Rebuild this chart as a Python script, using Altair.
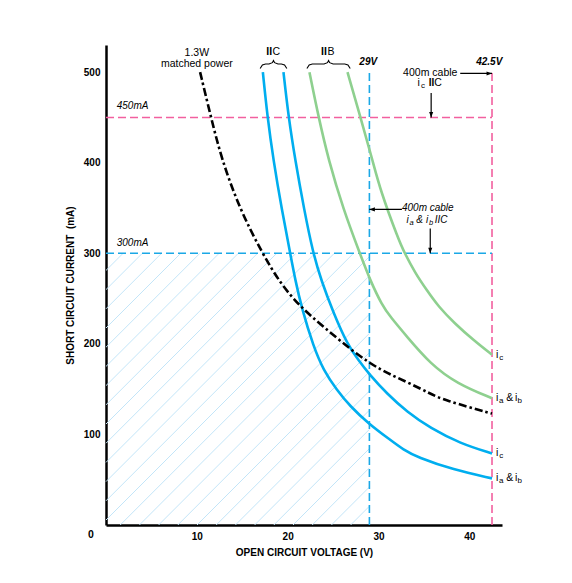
import altair as alt
import pandas as pd
import numpy as np

# ---------------- data ----------------
x_ticks = [0, 10, 20, 30, 40]
y_ticks = [0, 100, 200, 300, 400, 500]

# IIC, ia & ib (blue, left)
iic_ab_v = [17.27, 17.77, 18.43, 19.36, 20.28, 20.85, 21.56, 22.84, 23.94, 25.42, 26.89, 28.9, 31.29, 32.76, 34.24, 38.24, 42.5]
iic_ab_i = [500, 451, 403, 348, 300, 270, 239, 197, 171, 149, 131, 112, 94, 83, 75, 61, 51.5]
# IIC, ic (blue, right)
iic_c_v = [19.54, 20.09, 20.83, 21.82, 22.78, 23.7, 25.05, 26.6, 27.80, 29.01, 30.93, 33.13, 35.70, 39.0, 42.5]
iic_c_i = [500, 451, 403, 348, 301, 270, 234, 199, 182, 166, 145, 125, 107, 90, 79]
# IIB, ia & ib (green, left)
iib_ab_v = [22.40, 23.39, 24.50, 26.15, 27.91, 29.09, 30.38, 31.29, 33.13, 35.7, 38.64, 42.5]
iib_ab_i = [500, 451, 403, 348, 301, 270, 243, 230, 208, 178, 156, 140]
# IIB, ic (green, right)
iib_c_v = [26.59, 27.99, 29.34, 30.19, 32.21, 32.84, 34.05, 35.34, 36.62, 38.35, 40.47, 42.5]
iib_c_i = [500, 451, 403, 370, 315, 301, 278, 259, 241, 223, 204, 188]
# 1.3W matched power (black dash-dot)
pw_v = [10.36, 11.54, 12.75, 14.77, 17.16, 19.17, 21.38, 23.94, 27.25, 30.19, 33.13, 35.7, 37.17, 42.5]
pw_i = [500, 451, 403, 348, 301, 267, 241, 219, 191, 171, 158, 145, 138, 123]

# limits
v_limit_ab = 29.0     # 29V
v_limit_c = 42.5      # 42.5V
i_limit_ab = 300      # 300mA
i_limit_c = 450       # 450mA
limit_top = 502

# group braces (V range)
brace_iic = [16.97, 19.91]
brace_iib = [22.12, 26.89]

# ---------------- layout ----------------
W, H = 396, 480
XMAX, YMAX = 43.6, 530
SANS = "Liberation Sans, Arial, Helvetica, sans-serif"
BLUE = "#00aeef"
GREEN = "#8ed08f"
PINK = "#f2609f"
DBLUE = "#1ba8e6"
HATCH = "#c3e5f8"

xs = alt.Scale(domain=[0, XMAX], nice=False, zero=False)
ys = alt.Scale(domain=[0, YMAX], nice=False, zero=False)
common_axis = dict(ticks=False, grid=False, domainColor="black", domainWidth=2.5,
                   labelFont=SANS, labelFontSize=10, labelFontWeight="bold", labelColor="black",
                   titleFont=SANS, titleFontSize=10, titleFontWeight="bold", titleColor="black",
                   labelExpr="datum.value == 0 ? '' : datum.label")
xaxis = alt.Axis(values=x_ticks, labelPadding=6, titlePadding=6, **common_axis)
yaxis = alt.Axis(values=y_ticks, labelPadding=6, titlePadding=8, **common_axis)
X = alt.X("V:Q", scale=xs, axis=xaxis, title="OPEN CIRCUIT VOLTAGE (V)")
Y = alt.Y("I:Q", scale=ys, axis=yaxis, title="SHORT CIRCUIT CURRENT \u00a0(mA)")

layers = []

# ---------------- hatch (decoration of the 29V / 300mA region) ----------------
sx, sy = W / XMAX, H / YMAX
Xm, Ym = v_limit_ab * sx, i_limit_ab * sy
step, c0 = 19.2, 5.0
rows = []
for k in range(-40, 40):
    c = c0 + step * k
    if c <= -Xm or c >= Ym:
        continue
    x1 = max(0.0, -c)
    x2 = min(Xm, Ym - c)
    if x2 <= x1:
        continue
    rows.append({"V": x1 / sx, "I": (x1 + c) / sy, "V2": x2 / sx, "I2": (x2 + c) / sy})
hatch = pd.DataFrame(rows)
layers.append(alt.Chart(hatch).mark_rule(color=HATCH, strokeWidth=1).encode(
    x=X, y=Y, x2=alt.X2("V2:Q"), y2=alt.Y2("I2:Q")))

# ---------------- dashed limit lines ----------------
def seg(df, color):
    return alt.Chart(pd.DataFrame(df)).mark_rule(color=color, strokeWidth=1.6, strokeDash=[8, 4]).encode(
        x=X, y=Y, x2=alt.X2("V2:Q"), y2=alt.Y2("I2:Q"))

layers.append(seg({"V": [0, v_limit_c], "I": [i_limit_c, 0], "V2": [v_limit_c, v_limit_c], "I2": [i_limit_c, limit_top]}, PINK))
layers.append(seg({"V": [0, v_limit_ab], "I": [i_limit_ab, 0], "V2": [v_limit_c, v_limit_ab], "I2": [i_limit_ab, limit_top]}, DBLUE))

# ---------------- curves ----------------
def curve(v, i, color, dash=None, width=2.6):
    kw = dict(color=color, strokeWidth=width, interpolate="basis")
    if dash:
        kw["strokeDash"] = dash
    return alt.Chart(pd.DataFrame({"V": v, "I": i})).mark_line(**kw).encode(x=X, y=Y, order="V:Q")

layers.append(curve(iib_ab_v, iib_ab_i, GREEN))
layers.append(curve(iib_c_v, iib_c_i, GREEN))
layers.append(curve(iic_ab_v, iic_ab_i, BLUE))
layers.append(curve(iic_c_v, iic_c_i, BLUE))
layers.append(curve(pw_v, pw_i, "black", dash=[8, 3, 2.5, 3], width=2.6))

# ---------------- braces ----------------
def brace(lo, hi):
    m = (lo + hi) / 2
    v = [lo, lo + 0.25, lo + 0.6, m - 0.5, m - 0.12, m, m + 0.12, m + 0.5, hi - 0.6, hi - 0.25, hi]
    i = [504, 508, 509, 509, 510.5, 513, 510.5, 509, 509, 508, 504]
    return alt.Chart(pd.DataFrame({"V": v, "I": i, "o": range(len(v))})).mark_line(
        color="black", strokeWidth=1.1, interpolate="linear").encode(x=X, y=Y, order="o:Q")

layers.append(brace(*brace_iic))
layers.append(brace(*brace_iib))

# ---------------- arrows ----------------
def arrow(v1, i1, v2, i2, shape):
    shaft = alt.Chart(pd.DataFrame({"V": [v1], "I": [i1], "V2": [v2], "I2": [i2]})).mark_rule(
        color="black", strokeWidth=1.2).encode(x=X, y=Y, x2=alt.X2("V2:Q"), y2=alt.Y2("I2:Q"))
    head = alt.Chart(pd.DataFrame({"V": [v2], "I": [i2]})).mark_point(
        shape=shape, filled=True, color="black", opacity=1, size=30, strokeWidth=0).encode(x=X, y=Y)
    return [shaft, head]

RIGHT = "M0,0L-2,-0.75L-2,0.75Z"
LEFT = "M0,0L2,-0.75L2,0.75Z"
DOWN = "M0,0L-0.75,-2L0.75,-2Z"
layers += arrow(39.0, 498.6, v_limit_c, 498.6, RIGHT)
layers += arrow(35.8, 477, 35.8, i_limit_c, DOWN)
layers += arrow(32.58, 348.5, v_limit_ab, 348.5, LEFT)
layers += arrow(35.7, 327.5, 35.7, i_limit_ab, DOWN)

# ---------------- texts ----------------
def txt(v, i, s, size=10.5, weight="normal", style="normal", align="center", dx=0, dy=0):
    return alt.Chart(pd.DataFrame({"V": [v], "I": [i]})).mark_text(
        text=s, fontSize=size, fontWeight=weight, fontStyle=style, align=align, baseline="middle",
        dx=dx, dy=dy, font=SANS, color="black").encode(x=X, y=Y)

layers.append(txt(0, 0, "0", size=10.5, weight="bold", dx=-15, dy=10))
layers.append(txt(10.0, 521, "1.3W", size=10.5))
layers.append(txt(10.0, 509, "matched power", size=10.5))
# IIC / IIB
layers.append(txt(18.29, 522.4, "II", size=10.5, weight="bold", align="right"))
layers.append(txt(18.29, 522.4, "C", size=10.5, align="left", dx=0.5))
layers.append(txt(24.32, 522.4, "II", size=10.5, weight="bold", align="right"))
layers.append(txt(24.32, 522.4, "B", size=10.5, align="left", dx=0.5))
# voltage labels
layers.append(txt(28.87, 510.7, "29V", size=10, weight="bold", style="italic"))
layers.append(txt(42.2, 510.7, "42.5V", size=10, weight="bold", style="italic"))
# current labels
layers.append(txt(1.18, 462.5, "450mA", size=10, style="italic", align="left"))
layers.append(txt(1.18, 311, "300mA", size=10, style="italic", align="left"))
# 400m cable  ic IIC
layers.append(txt(35.7, 498.6, "400m cable", size=10.5))
for s, dx, dy, sz, wt in [("i", -11.7, 0, 10.5, "normal"), ("c", -7.3, 3, 8, "normal"),
                          ("II", 1.3, 0, 10, "bold"), ("C", 7.8, 0, 10.5, "normal")]:
    layers.append(txt(35.7, 487.5, s, size=sz, weight=wt, dx=dx, dy=dy))
# 400m cable  ia & ib IIC (italic)
layers.append(txt(35.43, 349.6, "400m cable", size=10, style="italic"))
for s, dx, dy, sz in [("i", -20.2, 0, 10), ("a", -16.2, 3, 7.5), ("&", -8.2, 0, 10),
                      ("i", -0.8, 0, 10), ("b", 3.2, 3, 7.5), ("IIC", 13.4, 0, 10)]:
    layers.append(txt(35.43, 336.6, s, size=sz, style="italic", dx=dx, dy=dy))

# right-side curve labels
def end_label(i, ab):
    out = [txt(v_limit_c, i, "i", size=10.5, dx=5.2),
           txt(v_limit_c, i, "a" if ab else "c", size=8, dx=9.2, dy=3)]
    if ab:
        out += [txt(v_limit_c, i, "&", size=10.5, dx=17.8),
                txt(v_limit_c, i, "i", size=10.5, dx=24.2),
                txt(v_limit_c, i, "b", size=8, dx=27.8, dy=3)]
    return out

layers += end_label(iib_c_i[-1], False)
layers += end_label(iib_ab_i[-1], True)
layers += end_label(iic_c_i[-1], False)
layers += end_label(iic_ab_i[-1], True)

chart = alt.layer(*layers).properties(
    width=W, height=H,
    padding={"left": 98, "top": 37, "right": 60, "bottom": 50},
    autosize=alt.AutoSizeParams(type="none"),
    background="white",
).configure_view(stroke=None)

chart.save("out.html", embed_options={"renderer": "svg", "actions": False})
